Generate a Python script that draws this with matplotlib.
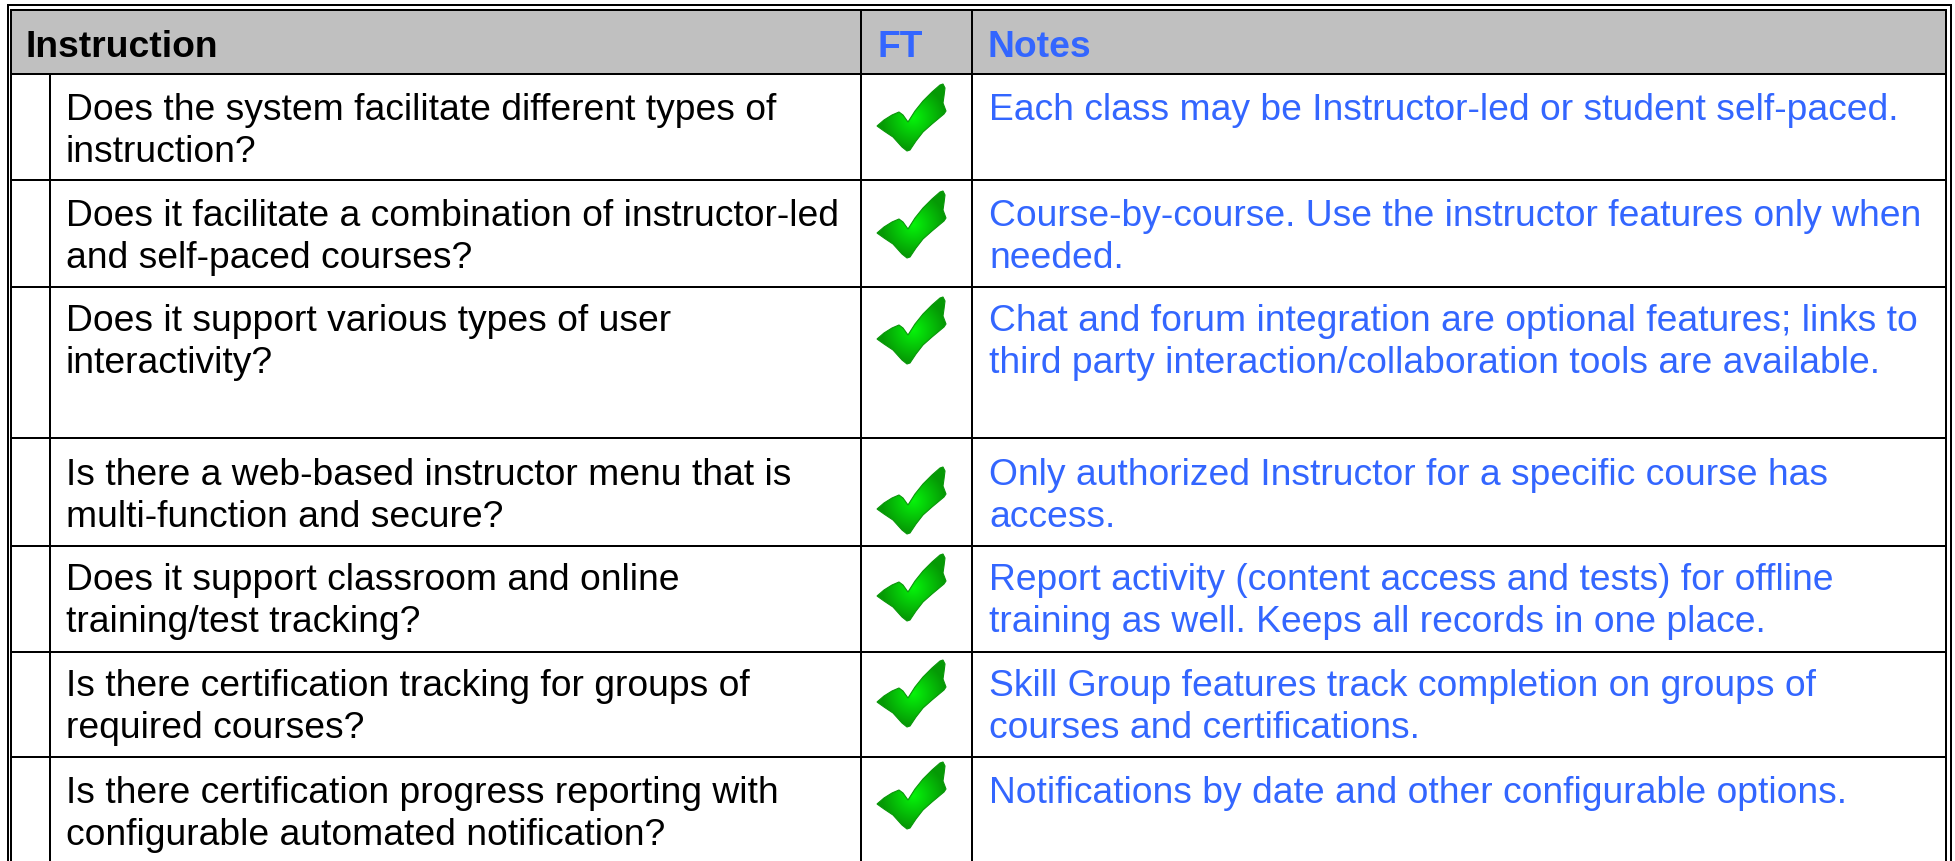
import numpy as np
import matplotlib
matplotlib.use("Agg")
import matplotlib.pyplot as plt
from matplotlib.patches import Polygon, Rectangle

plt.rcParams['font.family'] = ['Liberation Sans', 'DejaVu Sans']

# Table content
headers = ['Instruction', 'FT', 'Notes']
questions = [
    ['Does the system facilitate different types of', 'instruction?'],
    ['Does it facilitate a combination of instructor-led', 'and self-paced courses?'],
    ['Does it support various types of user', 'interactivity?'],
    ['Is there a web-based instructor menu that is', 'multi-function and secure?'],
    ['Does it support classroom and online', 'training/test tracking?'],
    ['Is there certification tracking for groups of', 'required courses?'],
    ['Is there certification progress reporting with', 'configurable automated notification?'],
]
notes = [
    ['Each class may be Instructor-led or student self-paced.'],
    ['Course-by-course. Use the instructor features only when', 'needed.'],
    ['Chat and forum integration are optional features; links to', 'third party interaction/collaboration tools are available.'],
    ['Only authorized Instructor for a specific course has', 'access.'],
    ['Report activity (content access and tests) for offline', 'training as well. Keeps all records in one place.'],
    ['Skill Group features track completion on groups of', 'courses and certifications.'],
    ['Notifications by date and other configurable options.'],
]

# Layout in reference pixels
row_lines = [75, 181, 288, 439, 547, 653, 758]
text_y = [120, 226, 331, 485, 590, 696, 803]
check_y = [85, 192, 298, 468, 555, 661, 763]
col_x = [49.5, 861, 972]
BLUE = '#3366FF'
W, H = 1956, 862
LW = 2 * 72 / 100
FONT = 26.8

fig = plt.figure(figsize=(W / 100, H / 100), dpi=100)
ax = fig.add_axes([0, 0, 1, 1])
ax.set_xlim(0, W)
ax.set_ylim(H, 0)
ax.axis('off')

# Header band
ax.add_patch(Rectangle((11, 10.5), 1935, 64.5, facecolor='#C0C0C0', edgecolor='none'))

# Double outer border, open at the bottom
ax.plot([7.5, 7.5, 1950.5, 1950.5], [H, 6, 6, H], color='black', lw=LW, solid_joinstyle='miter')
ax.plot([11, 11, 1946, 1946], [H, 10.5, 10.5, H], color='black', lw=LW, solid_joinstyle='miter')

# Grid
for y in row_lines:
    ax.plot([11, 1946], [y, y], color='black', lw=LW)
ax.plot([col_x[0]] * 2, [75, H], color='black', lw=LW)
for x in col_x[1:]:
    ax.plot([x, x], [10.5, H], color='black', lw=LW)

# Headers
ax.text(26, 57, headers[0], fontsize=FONT, fontweight='bold', color='black', va='baseline')
ax.text(878, 57, headers[1], fontsize=FONT, fontweight='bold', color=BLUE, va='baseline')
ax.text(988, 57, headers[2], fontsize=FONT, fontweight='bold', color=BLUE, va='baseline')

# Check mark outline, relative to its top-left corner
check_shape = np.array([
    [0, 42], [7, 36], [15, 31], [22, 28], [26, 31], [31, 38],
    [38, 27], [46, 17], [55, 8], [63, 1], [66, 0], [68, 4], [67, 12],
    [66, 19], [69, 27], [67, 30], [55, 40], [46, 48], [39, 57], [33, 66],
    [30, 67], [25, 63], [16, 53], [7, 47],
])
yy, xx = np.mgrid[0:68, 0:70]
dist = np.hypot((xx - 36) / 32, (yy - 33) / 32)
glow = np.clip(1 - dist, 0, 1)
green = np.dstack([0.02 + 0 * glow, 0.60 + 0.36 * glow, 0.02 + 0.02 * glow])

for y in check_y:
    pts = check_shape + [877, y]
    im = ax.imshow(green, extent=(877, 947, y + 68, y), interpolation='bilinear', zorder=3, aspect='auto')
    clip = Polygon(pts, closed=True, transform=ax.transData, facecolor='none', edgecolor='#0A960A', lw=0.8, zorder=4)
    ax.add_patch(clip)
    im.set_clip_path(clip)
ax.set_xlim(0, W)
ax.set_ylim(H, 0)

# Body text
for y, q, n in zip(text_y, questions, notes):
    for i, line in enumerate(q):
        ax.text(66, y + i * 42, line, fontsize=FONT, color='black', va='baseline')
    for i, line in enumerate(n):
        ax.text(989, y + i * 42, line, fontsize=FONT, color=BLUE, va='baseline')

fig.savefig('out.png', dpi=100)
